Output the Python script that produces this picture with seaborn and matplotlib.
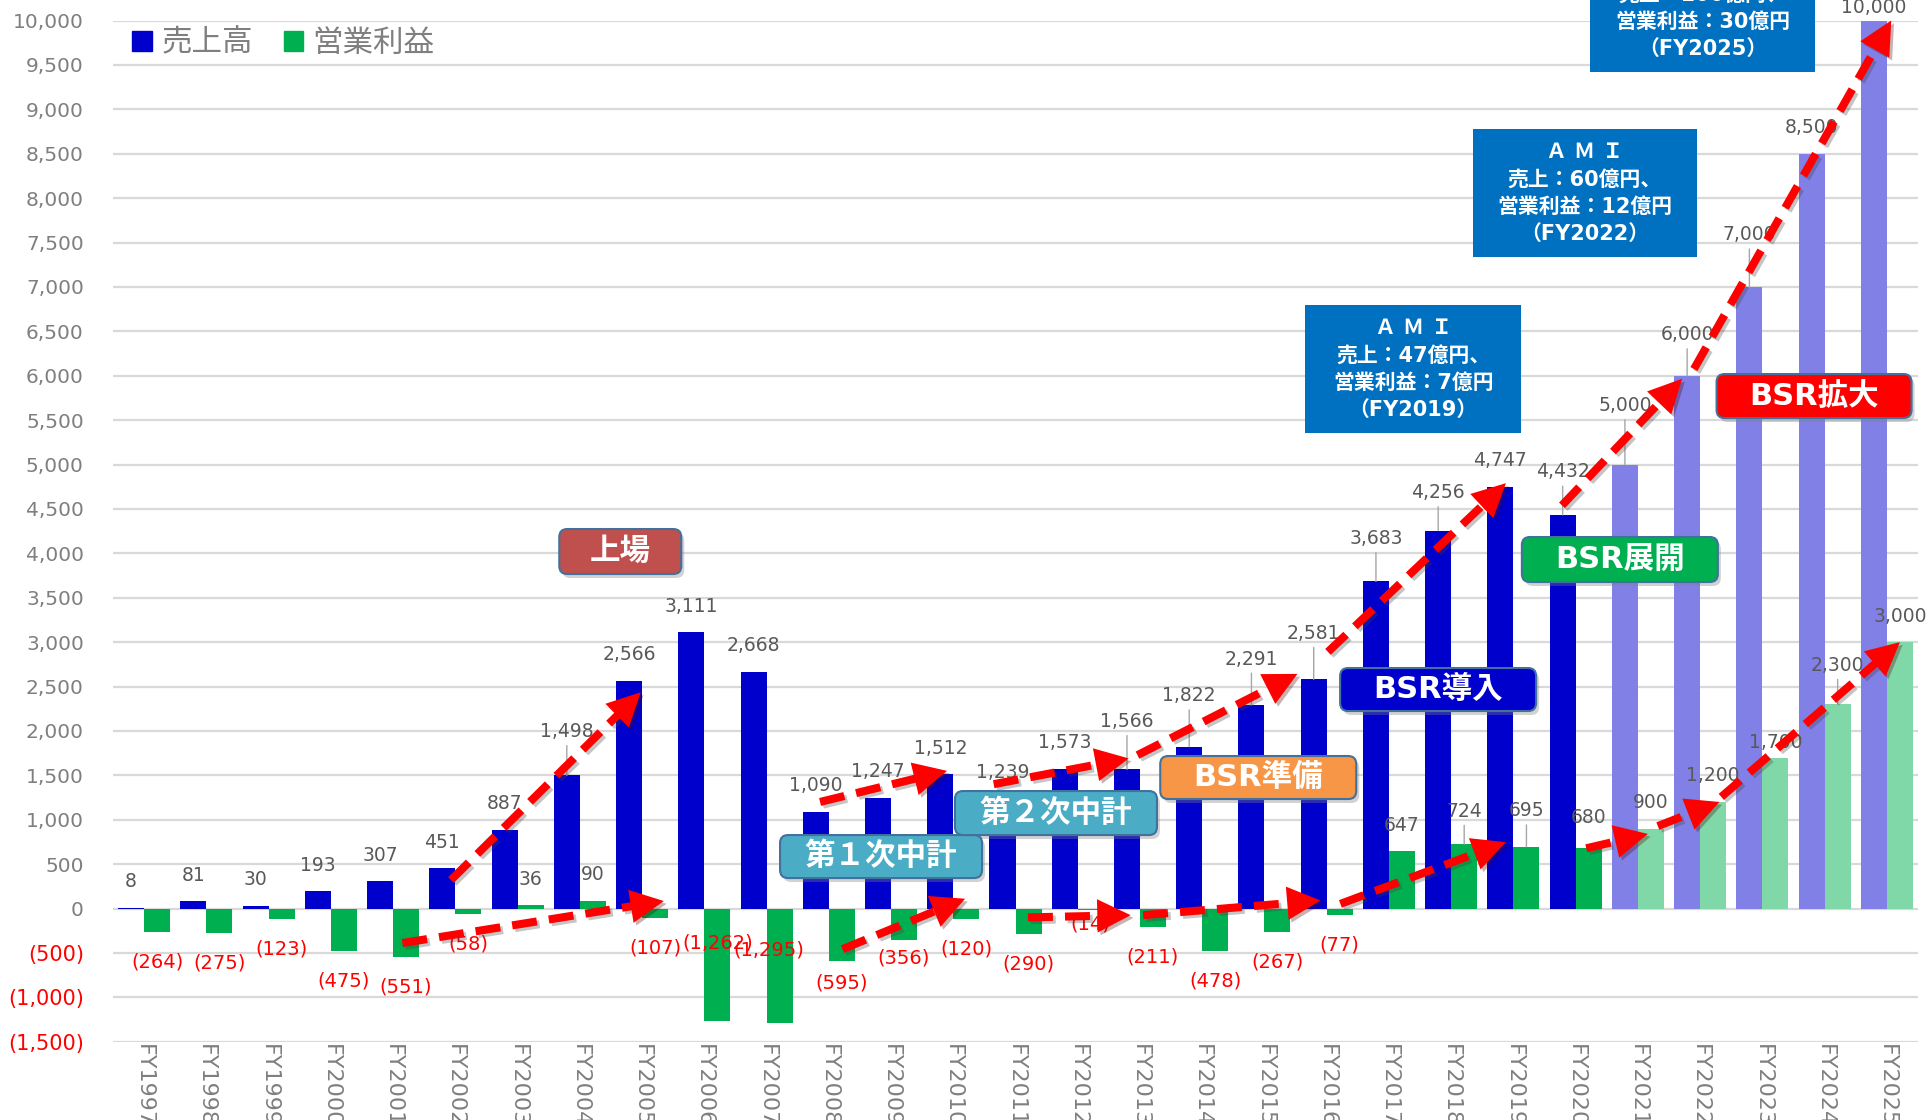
import numpy as np
import pandas as pd
import matplotlib
matplotlib.use("Agg")
import matplotlib.pyplot as plt
import matplotlib.patheffects as pe
import seaborn as sb
from matplotlib.patches import FancyBboxPatch, Patch
from matplotlib.transforms import ScaledTranslation

# 年度と実績・計画値（百万円）
years = ["FY1997", "FY1998", "FY1999", "FY2000", "FY2001", "FY2002", "FY2003",
         "FY2004", "FY2005", "FY2006", "FY2007", "FY2008", "FY2009", "FY2010",
         "FY2011", "FY2012", "FY2013", "FY2014", "FY2015", "FY2016", "FY2017",
         "FY2018", "FY2019", "FY2020", "FY2021", "FY2022", "FY2023", "FY2024",
         "FY2025"]
sales = [8, 81, 30, 193, 307, 451, 887, 1498, 2566, 3111, 2668, 1090, 1247,
         1512, 1239, 1573, 1566, 1822, 2291, 2581, 3683, 4256, 4747, 4432,
         5000, 6000, 7000, 8500, 10000]
profit = [-264, -275, -123, -475, -551, -58, 36, 90, -107, -1262, -1295, -595,
          -356, -120, -290, -14, -211, -478, -267, -77, 647, 724, 695, 680,
          900, 1200, 1700, 2300, 3000]
first_plan = "FY2021"
y_ticks = list(range(-1500, 10001, 500))

BLUE = "#0000CC"
GREEN = "#00B050"
BLUE_PLAN = "#8080E6"
GREEN_PLAN = "#80D8A8"
GRAY = "#7F7F7F"
LABEL_GRAY = "#595959"

# ラベル位置の微調整（ピクセル）
sales_raise = {"FY2004": 18, "FY2013": 22, "FY2014": 25, "FY2015": 20,
               "FY2016": 20, "FY2017": 17, "FY2018": 12, "FY2020": 17,
               "FY2021": 33, "FY2022": 15, "FY2023": 26, "FY2025": -13}
profit_raise = {"FY2008": -8, "FY2009": -12, "FY2012": -16, "FY2018": 7,
                "FY2019": 10, "FY2020": 5, "FY2023": -11, "FY2024": 13}
profit_fixed = {"FY2006": (0, -388), "FY2007": (-11, -471)}

# 吹き出し：(テキスト, x位置, y位置, 幅in, 高さin, 塗り)
tags = [
    ("上場", 7.65, 4020, 1.22, 0.45, "#C0504D"),
    ("第１次中計", 11.84, 585, 2.02, 0.43, "#4BACC6"),
    ("第２次中計", 14.65, 1075, 2.02, 0.44, "#4BACC6"),
    ("BSR準備", 17.9, 1475, 1.96, 0.43, "#F79646"),
    ("BSR導入", 20.79, 2466, 1.96, 0.43, "#0000CC"),
    ("BSR展開", 23.71, 3930, 1.96, 0.45, "#00B050"),
    ("BSR拡大", 26.83, 5771, 1.95, 0.44, "#FF0000"),
]
ami_boxes = [
    ("Ａ Ｍ Ｉ\n売上：47億円、\n営業利益：7億円\n（FY2019）", 20.39, 6075, 2.16, 1.28),
    ("Ａ Ｍ Ｉ\n売上：60億円、\n営業利益：12億円\n（FY2022）", 23.15, 8057, 2.24, 1.28),
    ("Ａ Ｍ Ｉ\n売上：100億円、\n営業利益：30億円\n（FY2025）", 25.04, 10141, 2.25, 1.28),
]
# 赤い破線矢印：(x0, y0, x1, y1)
arrows = [
    (4.93, 321, 7.98, 2436),
    (4.15, -389, 8.35, 84),
    (10.86, 1200, 12.9, 1550),
    (11.22, -458, 13.19, 110),
    (13.65, 1400, 15.82, 1690),
    (14.2, -100, 15.85, -75),
    (15.96, 1727, 18.53, 2642),
    (16.05, -75, 18.9, 90),
    (19.02, 2890, 21.88, 4790),
    (19.22, 52, 21.88, 747),
    (22.78, 4540, 24.71, 5966),
    (23.17, 678, 24.16, 840),
    (24.32, 928, 25.31, 1200),
    (24.9, 6075, 28.07, 10000),
    (25.34, 1257, 28.21, 3000),
]


def fmt(v):
    return f"{v:,}" if v >= 0 else f"({-v:,})"


sb.set_theme(style="white")
plt.rcParams["font.family"] = ["DejaVu Sans", "Noto Sans CJK JP"]

fig = plt.figure(figsize=(19.28, 11.2), dpi=100)
ax = fig.add_axes([113 / 1928, 78.3 / 1120, 1805 / 1928, 1021.2 / 1120])

n = len(years)
df = pd.DataFrame({
    "年度": years * 2,
    "系列": ["売上高"] * n + ["営業利益"] * n,
    "値": sales + profit,
})
sb.barplot(data=df, x="年度", y="値", hue="系列", palette=[BLUE, GREEN],
           width=0.836, errorbar=None, saturation=1, linewidth=0,
           legend=False, ax=ax)

# 計画値は淡色
start = years.index(first_plan)
for i in range(start, n):
    ax.containers[0][i].set_facecolor(BLUE_PLAN)
    ax.containers[1][i].set_facecolor(GREEN_PLAN)

ax.set_xlim(-0.5, n - 0.5)
ax.set_ylim(-1500, 10000)
ax.set_yticks(y_ticks)
ax.set_yticklabels([fmt(t) for t in y_ticks])
ax.tick_params(axis="y", length=0, pad=21, labelsize=14.5)
ax.tick_params(axis="x", length=0, pad=2, labelsize=16, labelcolor=GRAY)
for t, lab in zip(y_ticks, ax.get_yticklabels()):
    if t < 0:
        lab.set_color("#FF0000")
        lab.set_fontsize(15)
    else:
        lab.set_color(GRAY)
plt.setp(ax.get_xticklabels(), rotation=-90, va="top", ha="center")
ax.set_xlabel("")
ax.set_ylabel("")
ax.yaxis.grid(True, color="#D9D9D9", lw=1.6)
ax.set_axisbelow(True)
for s in ax.spines.values():
    s.set_visible(False)

# データラベル
leader = dict(arrowstyle="-", color="#A6A6A6", lw=1, shrinkA=1, shrinkB=0)
for i, bar in enumerate(ax.containers[0]):
    x = bar.get_x() + bar.get_width() / 2
    extra = sales_raise.get(years[i], 0)
    ax.annotate(fmt(sales[i]), xy=(x, sales[i]), xytext=(0, 26 + extra),
                textcoords="offset pixels", ha="center", va="center",
                fontsize=13.5, color=LABEL_GRAY, annotation_clip=False,
                arrowprops=leader if extra >= 10 else None, zorder=4)

for i, bar in enumerate(ax.containers[1]):
    x = bar.get_x() + bar.get_width() / 2
    v = profit[i]
    if years[i] in profit_fixed:
        dx, yv = profit_fixed[years[i]]
        ax.annotate(fmt(v), xy=(x, yv), xytext=(dx, 0),
                    textcoords="offset pixels", ha="center", va="center",
                    fontsize=14, color="#FF0000", zorder=4)
        continue
    extra = profit_raise.get(years[i], 0)
    if v < 0:
        ax.annotate(fmt(v), xy=(x, v), xytext=(0, -30 - extra),
                    textcoords="offset pixels", ha="center", va="center",
                    fontsize=14, color="#FF0000", zorder=4)
    else:
        ax.annotate(fmt(v), xy=(x, v), xytext=(0, 26 + extra),
                    textcoords="offset pixels", ha="center", va="center",
                    fontsize=13.5, color=LABEL_GRAY, zorder=4,
                    arrowprops=leader if extra >= 7 else None)

# 赤い破線矢印
shadow = [pe.SimpleLineShadow(offset=(2, -2), alpha=0.3, shadow_color="#404040"),
          pe.Normal()]
head_px = 34
for x0, y0, x1, y1 in arrows:
    p0 = ax.transData.transform((x0, y0))
    p1 = ax.transData.transform((x1, y1))
    u = (p1 - p0) / np.hypot(*(p1 - p0))
    pe_end = ax.transData.inverted().transform(p1 - u * head_px * 0.8)
    pe_back = ax.transData.inverted().transform(p1 - u * head_px)
    ax.plot([x0, pe_end[0]], [y0, pe_end[1]], color="#FF0000", lw=5.8,
            ls=(0, (3.1, 1.5)), dash_capstyle="butt", zorder=8,
            path_effects=shadow, clip_on=False)
    ax.annotate("", xy=(x1, y1), xytext=(pe_back[0], pe_back[1]),
                arrowprops=dict(arrowstyle="-|>,head_length=1.2,head_width=0.6",
                                color="#FF0000", lw=0, mutation_scale=20,
                                shrinkA=0, shrinkB=0,
                                path_effects=[pe.SimplePatchShadow(offset=(2, -2), alpha=0.3),
                                              pe.Normal()]),
                annotation_clip=False, zorder=8)

# 吹き出し
for text, x, y, w, h, color in tags:
    tr = fig.dpi_scale_trans + ScaledTranslation(x, y, ax.transData)
    sh = FancyBboxPatch((-w / 2 + 0.03, -h / 2 - 0.04), w, h,
                        boxstyle="round,pad=0,rounding_size=0.08",
                        transform=tr, fc="#808080", ec="none", alpha=0.35,
                        zorder=9, clip_on=False)
    box = FancyBboxPatch((-w / 2, -h / 2), w, h,
                         boxstyle="round,pad=0,rounding_size=0.08",
                         transform=tr, fc=color, ec="#41719C", lw=1.5,
                         zorder=10, clip_on=False)
    ax.add_artist(sh)
    ax.add_artist(box)
    ax.text(x, y, text, ha="center", va="center", color="white",
            fontsize=22, fontweight="bold", zorder=11)

for text, x, y, w, h in ami_boxes:
    tr = fig.dpi_scale_trans + ScaledTranslation(x, y, ax.transData)
    box = FancyBboxPatch((-w / 2, -h / 2), w, h, boxstyle="square,pad=0",
                         transform=tr, fc="#0070C0", ec="none",
                         zorder=10, clip_on=False)
    ax.add_artist(box)
    ax.text(x, y, text, ha="center", va="center", ma="center", color="white",
            fontsize=15, fontweight="bold", linespacing=1.45, zorder=11,
            clip_on=False)

# 凡例
handles = [Patch(color=BLUE, label="売上高"), Patch(color=GREEN, label="営業利益")]
leg = ax.legend(handles=handles, loc="upper left", bbox_to_anchor=(0.004, 1.004),
                ncol=2, frameon=False, fontsize=22, handlelength=0.65,
                handleheight=0.65, handletextpad=0.3, columnspacing=1.0,
                borderaxespad=0, labelcolor=GRAY)

fig.savefig("out.png", dpi=100)
